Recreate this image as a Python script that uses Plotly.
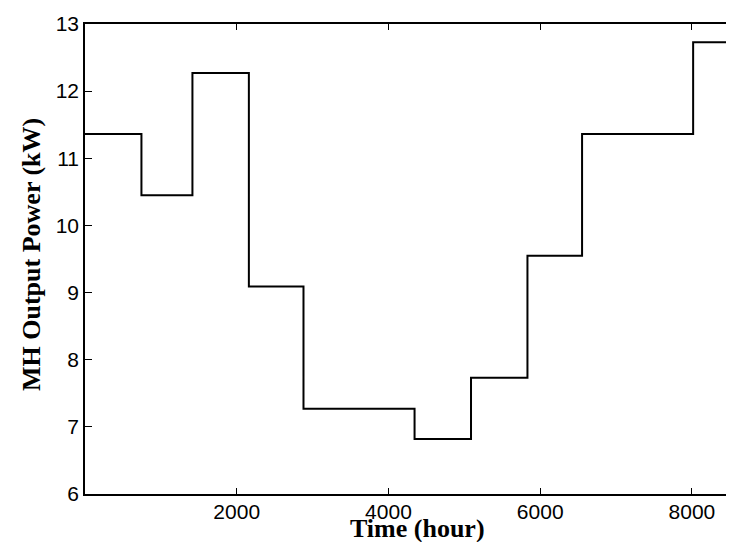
import plotly.graph_objects as go

# Month boundaries (hours) and monthly MH output power (kW)
month_start_hours = [0, 744, 1416, 2160, 2880, 3624, 4344, 5088, 5832, 6552, 7296, 8016, 8760]
power_kw = [11.36, 10.45, 12.27, 9.09, 7.27, 7.27, 6.82, 7.73, 9.55, 11.36, 11.36, 12.73, 12.73]

x_ticks = [2000, 4000, 6000, 8000]
y_ticks = [6, 7, 8, 9, 10, 11, 12, 13]

x_title = "Time (hour)"
y_title = "MH Output Power (kW)"

fig = go.Figure()
fig.add_trace(go.Scatter(
    x=month_start_hours, y=power_kw, mode="lines", line_shape="hv",
    line=dict(color="black", width=2), showlegend=False, hoverinfo="x+y"))

title_font = dict(family="Liberation Serif, Times New Roman", size=26, color="black")
tick_font = dict(family="Liberation Sans, Arial", size=21, color="black")

fig.update_layout(
    width=734, height=542,
    margin=dict(l=77, r=0, t=16, b=56),
    paper_bgcolor="white", plot_bgcolor="white",
    font=dict(family="Liberation Sans, Arial", color="black", size=20),
    annotations=[
        dict(text="<b>%s</b>" % x_title, xref="x", yref="paper",
             x=month_start_hours[-1] / 2, y=0, xanchor="center", yanchor="middle",
             yshift=-34, borderpad=0, showarrow=False, font=title_font),
        dict(text="<b>%s</b>" % y_title, xref="paper", yref="paper",
             x=0, y=0.5, xanchor="center", yanchor="middle", textangle=-90,
             xshift=-54, yshift=4, showarrow=False, font=title_font),
    ],
)
fig.update_xaxes(
    range=[0, 8660], tickvals=x_ticks, ticktext=[str(v) for v in x_ticks],
    ticks="inside", ticklen=6, tickwidth=1, tickcolor="black",
    showline=True, linecolor="black", linewidth=2, mirror="ticks",
    showgrid=False, zeroline=False, tickfont=tick_font, ticklabelstandoff=-2,
)
fig.update_yaxes(
    range=[6, 13], tickvals=y_ticks, ticktext=[str(v) for v in y_ticks],
    ticks="inside", ticklen=7, tickwidth=1, tickcolor="black",
    showline=True, linecolor="black", linewidth=1.5, mirror=False,
    showgrid=False, zeroline=False, tickfont=tick_font,
)
fig.write_html("out.html")
